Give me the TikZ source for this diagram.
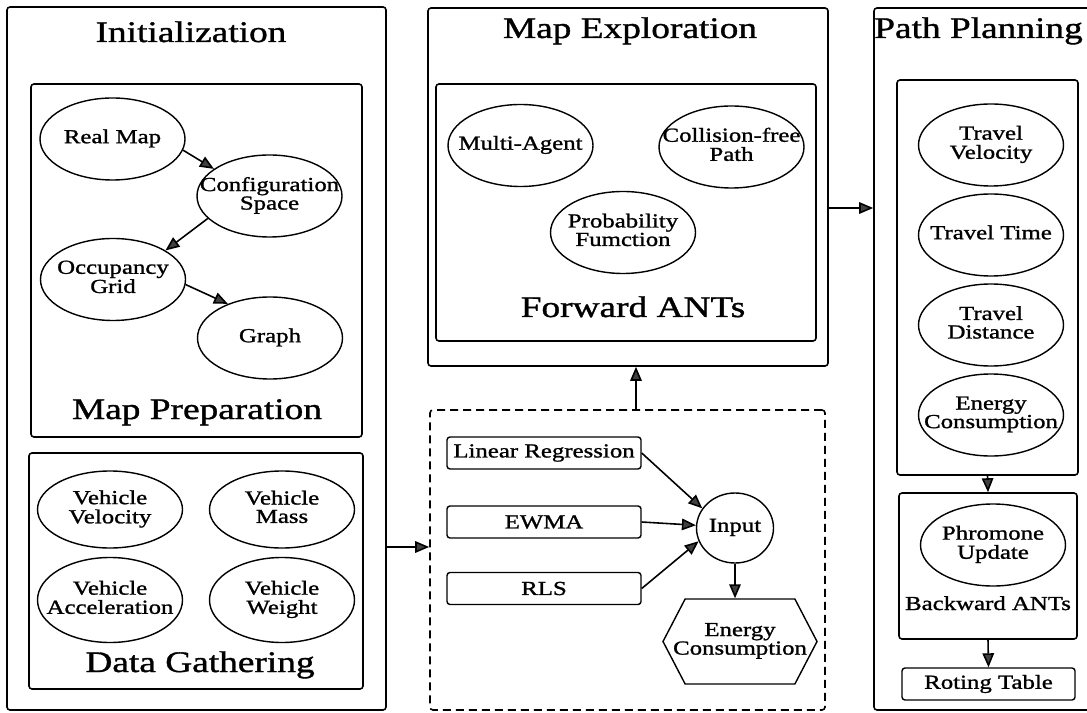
\documentclass[tikz,border=0pt]{standalone}
\usepackage{fontspec}
\setmainfont[FakeStretch=1.25,FakeBold=1.2]{Liberation Serif}
\usetikzlibrary{arrows.meta,shapes.geometric,shapes.symbols}

\newcommand{\txtfont}{\fontsize{11.3}{10.2}\selectfont}
\newcommand{\hdfont}{\fontsize{17}{18}\selectfont}
\newcommand{\zw}[1]{\makebox[0pt]{\begin{tabular}{@{}c@{}}#1\end{tabular}}}

\begin{document}
\begin{tikzpicture}[x=0.2mm,y=-0.2mm,node distance=18mm]
      \tikzstyle{box}=[draw,line width=0.9pt,rounded corners=0.6mm,inner sep=0pt]
      \tikzstyle{dbox}=[box,dash pattern=on 1.6mm off 1mm]
      \tikzstyle{oval}=[ellipse,draw,line width=0.8pt,inner sep=0pt,minimum width=29mm,minimum height=16.4mm,font=\txtfont]
      \tikzstyle{tag}=[box,line width=0.8pt,minimum width=38.8mm,minimum height=6.4mm,font=\txtfont]
      \tikzstyle{title}=[anchor=base,inner sep=0pt,font=\hdfont]
      \tikzstyle{sub}=[anchor=base,inner sep=0pt,font=\txtfont]
      \tikzstyle{arr}=[line width=0.9pt,-{Triangle[length=2.8mm,width=2.3mm,fill=black!75]}]

      \useasboundingbox (0,0) rectangle (1087,713);

      % frames
      \node[box,minimum width=75.8mm,minimum height=140.6mm](init) at (196.5,358.5){};
      \node[box,minimum width=66.2mm,minimum height=70.6mm](prep) at (196.5,260.5){};
      \node[box,minimum width=66.8mm,minimum height=47.2mm](gather) at (196,571){};
      \node[box,minimum width=80mm,minimum height=71.6mm](explore) at (628,187){};
      \node[box,minimum width=76mm,minimum height=51.4mm](forward) at (626,212.5){};
      \node[dbox,minimum width=79mm,minimum height=60mm](model) at (627.5,560){};
      \node[box,minimum width=45.2mm,minimum height=140.4mm](plan) at (987,359){};
      \node[box,minimum width=36.2mm,minimum height=79mm](costs) at (987.5,277.5){};
      \node[box,minimum width=35.6mm,minimum height=29.2mm](backward) at (988,566){};

      \node[title](inittitle) at (191,42){Initialization};
      \node[title](preptitle) at (197,419){Map Preparation};
      \node[title](gathertitle) at (200,672){Data Gathering};
      \node[title](exploretitle) at (630,38){Map Exploration};
      \node[title](forwardtitle) at (633,317){Forward ANTs};
      \node[title](plantitle) at (978.5,38){Path Planning};
      \node[sub](backwardtitle) at (988,610){Backward ANTs};

      % map preparation
      \node[oval](realmap) at (112.5,139){\zw{Real Map}};
      \node[oval](cspace) at (269.5,196){\zw{Configuration\\Space}};
      \node[oval](occgrid) at (113,279.5){\zw{Occupancy\\Grid}};
      \node[oval](graph) at (270,338){\zw{Graph}};
      \draw[arr] (realmap.-9) -- (cspace.154);
      \draw[arr] (cspace.-160) -- (occgrid.29);
      \draw[arr] (occgrid.-4) -- (graph.141);

      % data gathering
      \node[oval,minimum height=15.4mm](vvel) at (110,509.5){\zw{Vehicle\\Velocity}};
      \node[oval,minimum height=15.4mm](vmass) at (282,509.5){\zw{Vehicle\\Mass}};
      \node[oval,minimum height=17mm](vacc) at (110,600){\zw{Vehicle\\Acceleration}};
      \node[oval,minimum height=17mm](vweight) at (282,600){\zw{Vehicle\\Weight}};

      % forward ants
      \node[oval](multi) at (520.5,145.5){\zw{Multi-Agent}};
      \node[oval](colfree) at (731.5,147){\zw{Collision-free\\Path}};
      \node[oval](prob) at (623,232.5){\zw{Probability\\Fumction}};

      % energy model
      \node[tag](linreg) at (544,453){Linear Regression};
      \node[tag](ewma) at (544,522){EWMA};
      \node[tag](rls) at (544,588.5){RLS};
      \node[oval,minimum width=15.4mm,minimum height=14mm](input) at (735,528){\zw{Input}};
      \node[signal,signal to=west and east,signal pointer angle=125,draw,line width=0.8pt,inner sep=0pt,
            minimum width=30.8mm,minimum height=17mm,font=\txtfont](energyhex) at (740,641.5){\zw{Energy\\Consumption}};
      \draw[arr] (linreg.east) -- (input.149);
      \draw[arr] (ewma.east) -- (input.176);
      \draw[arr] (rls.east) -- (input.200);
      \draw[arr] (input.south) -- (input.south |- energyhex.north);

      % path planning
      \node[oval](tvel) at (991,145){\zw{Travel\\Velocity}};
      \node[oval,below of=tvel](ttime){\zw{Travel Time}};
      \node[oval,below of=ttime](tdist){\zw{Travel\\Distance}};
      \node[oval,below of=tdist](tenergy){\zw{Energy\\Consumption}};
      \node[oval](phro) at (993,545){\zw{Phromone\\Update}};
      \node[tag,minimum width=34.6mm](table) at (988.5,684){Roting Table};

      \draw[arr] (costs.south) -- (backward.north);
      \draw[arr] (backward.south) -- (table.north);

      % between frames
      \draw[arr] ([yshift=2.6mm]model.west -| init.east) -- ([yshift=2.6mm]model.west);
      \draw[arr] ([xshift=1.7mm]model.north) -- ([xshift=1.7mm]model.north |- explore.south);
      \draw[arr] ([yshift=-4.2mm]explore.east) -- ([yshift=-4.2mm]explore.east -| plan.west);
    \end{tikzpicture}
\end{document}
